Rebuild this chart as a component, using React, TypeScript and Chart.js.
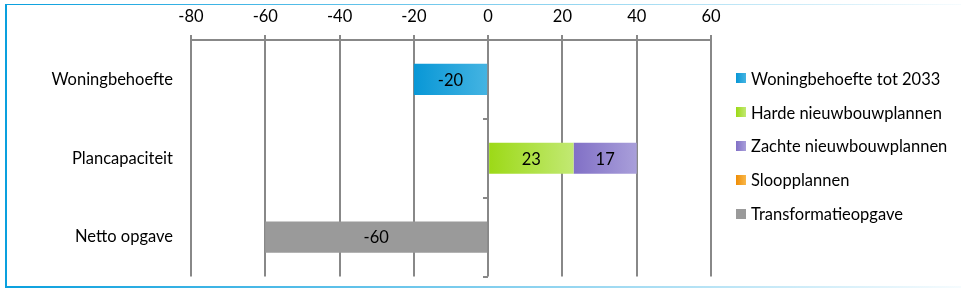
import React, { useEffect, useRef } from "react";
import { Chart, registerables } from "chart.js";

Chart.register(...registerables);

// ---- data ----
const categories = ["Woningbehoefte", "Plancapaciteit", "Netto opgave"];
const seriesNames = [
  "Woningbehoefte tot 2033",
  "Harde nieuwbouwplannen",
  "Zachte nieuwbouwplannen",
  "Sloopplannen",
  "Transformatieopgave",
];
const woningbehoefte = [-20, null, null];
const hardeNieuwbouw = [null, 23, null];
const zachteNieuwbouw = [null, 17, null];
const sloopplannen = [null, null, null];
const transformatie = [null, null, -60];
const xTickValues = [-80, -60, -40, -20, 0, 20, 40, 60];

// ---- styles ----
const seriesColors: [string, string][] = [
  ["#0897d6", "#45b4e2"],
  ["#9cd916", "#c2e973"],
  ["#8170c6", "#a99fda"],
  ["#ef8d06", "#f8b74a"],
  ["#9a9a9a", "#9a9a9a"],
];
const FONT = "Lato, 'Open Sans', sans-serif";
const FONT_SIZE = 16.5;
const GRID = "#888888";

function gradientFor(ctx: any, di: number) {
  const [c0, c1] = seriesColors[di];
  const chart = ctx.chart;
  if (!chart.chartArea || ctx.dataIndex === undefined) return c0;
  const ds = chart.data.datasets;
  const idx = ctx.dataIndex;
  const v = ds[di].data[idx];
  if (v == null) return c0;
  let start = 0;
  for (let k = 0; k < di; k++) {
    const w = ds[k].data[idx];
    if (w != null && Math.sign(w) === Math.sign(v)) start += w;
  }
  const xs = chart.scales.x;
  const p0 = xs.getPixelForValue(start);
  const p1 = xs.getPixelForValue(start + v);
  const g = chart.ctx.createLinearGradient(Math.min(p0, p1), 0, Math.max(p0, p1), 0);
  g.addColorStop(0, c0);
  g.addColorStop(1, c1);
  return g;
}

const framePlugin = {
  id: "frame",
  beforeDraw(chart: any) {
    const { ctx, width, height } = chart;
    ctx.save();
    ctx.fillStyle = "#ffffff";
    ctx.fillRect(0, 0, width, height);
    ctx.fillStyle = "#0aa0de";
    ctx.fillRect(5, 4, 2, height - 4 - 4);
    const g = ctx.createLinearGradient(5, 0, width, 0);
    g.addColorStop(0, "rgba(10,160,222,1)");
    g.addColorStop(1, "rgba(10,160,222,0.04)");
    ctx.fillStyle = g;
    ctx.fillRect(5, 4, width - 5, 1);
    ctx.fillRect(5, height - 6, width - 5, 2);
    ctx.restore();
  },
};

const zeroTicksPlugin = {
  id: "zeroTicks",
  afterDatasetsDraw(chart: any) {
    const { ctx } = chart;
    const xs = chart.scales.x;
    const ys = chart.scales.y;
    const x0 = Math.round(xs.getPixelForValue(0));
    ctx.save();
    ctx.fillStyle = GRID;
    for (let i = 0; i <= categories.length; i++) {
      const y = ys.getPixelForValue(i - 0.5);
      ctx.fillRect(x0 - 5, Math.round(y) - 1, 5, 2);
    }
    ctx.restore();
  },
};

const dataLabelPlugin = {
  id: "dataLabels",
  afterDatasetsDraw(chart: any) {
    const { ctx } = chart;
    ctx.save();
    ctx.font = `${FONT_SIZE}px ${FONT}`;
    ctx.fillStyle = "#000000";
    ctx.textAlign = "center";
    ctx.textBaseline = "middle";
    chart.data.datasets.forEach((ds: any, di: number) => {
      const meta = chart.getDatasetMeta(di);
      meta.data.forEach((el: any, i: number) => {
        const v = ds.data[i];
        if (v == null || v === 0) return;
        ctx.fillText(String(v), (el.x + el.base) / 2, el.y + 1);
      });
    });
    ctx.restore();
  },
};

const legendPlugin = {
  id: "sideLegend",
  afterDraw(chart: any) {
    const { ctx, chartArea, height } = chart;
    const n = chart.data.datasets.length;
    const spacing = 33.8;
    const x0 = chartArea.right + 25;
    const yc = height / 2;
    ctx.save();
    ctx.font = `${FONT_SIZE}px ${FONT}`;
    ctx.textAlign = "left";
    ctx.textBaseline = "middle";
    chart.data.datasets.forEach((ds: any, i: number) => {
      const y = yc + (i - (n - 1) / 2) * spacing;
      const [c0, c1] = seriesColors[i];
      const g = ctx.createLinearGradient(x0, 0, x0 + 10, 0);
      g.addColorStop(0, c0);
      g.addColorStop(1, c1);
      ctx.fillStyle = g;
      ctx.fillRect(x0, Math.round(y - 5), 10, 10);
      ctx.fillStyle = "#000000";
      ctx.fillText(ds.label, x0 + 15, y + 1);
    });
    ctx.restore();
  },
};

export default function App() {
  const ref = useRef<HTMLCanvasElement | null>(null);
  useEffect(() => {
    if (!ref.current) return;
    const seriesData = [woningbehoefte, hardeNieuwbouw, zachteNieuwbouw, sloopplannen, transformatie];
    const chart = new Chart(ref.current, {
      type: "bar",
      data: {
        labels: categories,
        datasets: seriesData.map((d, di) => ({
          label: seriesNames[di],
          data: d as any,
          backgroundColor: (ctx: any) => gradientFor(ctx, di),
          borderWidth: 0,
          categoryPercentage: 1,
          barPercentage: 0.395,
        })),
      },
      options: {
        indexAxis: "y",
        responsive: false,
        animation: false,
        devicePixelRatio: 1,
        layout: { padding: { left: 0, top: 0, right: 250, bottom: 15.5 } },
        plugins: {
          legend: { display: false },
          tooltip: { enabled: false },
        },
        scales: {
          x: {
            type: "linear",
            position: "top",
            stacked: true,
            min: -80,
            max: 60,
            afterBuildTicks: (s: any) => {
              s.ticks = xTickValues.map((v) => ({ value: v }));
            },
            afterFit: (s: any) => {
              s.height = 40;
              s.paddingLeft = 0;
              s.paddingRight = 0;
            },
            ticks: {
              color: "#000000",
              font: { family: FONT, size: FONT_SIZE },
              padding: 8,
              maxRotation: 0,
            },
            grid: { color: GRID, lineWidth: 2, tickLength: 5, drawTicks: true },
            border: { display: true, color: GRID, width: 2 },
          },
          y: {
            type: "category",
            position: "left",
            stacked: true,
            afterFit: (s: any) => {
              s.width = 191;
              s.paddingTop = 0;
              s.paddingBottom = 0;
            },
            ticks: {
              color: "#000000",
              font: { family: FONT, size: FONT_SIZE },
              padding: 18,
            },
            grid: { display: false, drawTicks: false },
            border: { display: false },
          },
        },
      },
      plugins: [framePlugin, zeroTicksPlugin, dataLabelPlugin, legendPlugin],
    });
    return () => chart.destroy();
  }, []);
  return (
    <div style={{ position: "absolute", left: 0, top: 0, width: 961, height: 292 }}>
      <canvas ref={ref} width={961} height={292} style={{ display: "block" }} />
    </div>
  );
}
